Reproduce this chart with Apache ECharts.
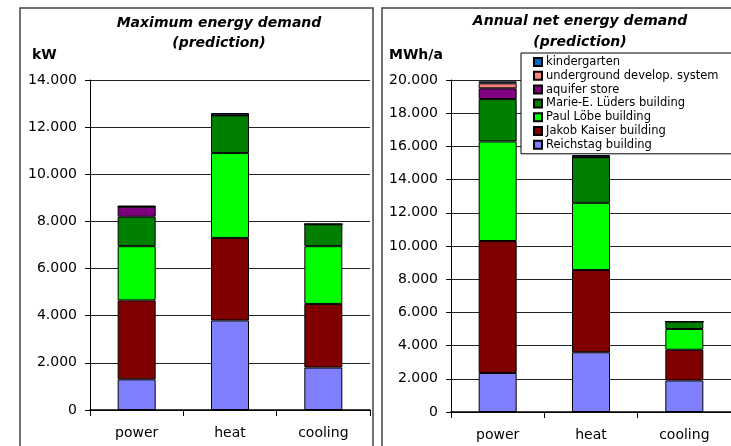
<!DOCTYPE html>
<html>
<head>
<meta charset="utf-8">
<script src="https://cdn.jsdelivr.net/npm/echarts@6/dist/echarts.min.js"></script>
<style>
  html, body { margin: 0; padding: 0; background: #fff; }
  #chart { width: 731px; height: 446px; }
</style>
</head>
<body>
<div id="chart"></div>
<script>
// Demand categories shared by both panels
const categories = ['power', 'heat', 'cooling'];

// Building / system names, bottom of the stack first
const names = [
  'Reichstag building',
  'Jakob Kaiser building',
  'Paul Löbe building',
  'Marie-E. Lüders building',
  'aquifer store',
  'underground develop. system',
  'kindergarten'
];
const colors = ['#8080ff', '#800000', '#00ff00', '#008000', '#800080', '#ff8080', '#0066cc'];

// Maximum energy demand (kW), per building: power, heat, cooling
const maxReichstag   = [1300, 3800, 1800];
const maxJakobKaiser = [3350, 3500, 2700];
const maxPaulLoebe   = [2300, 3600, 2450];
const maxMarieLueders = [1250, 1600, 930];
const maxAquifer     = [425, 0, 0];
const maxUnderground = [0, 0, 0];
const maxKindergarten = [40, 100, 0];

// Annual net energy demand (MWh/a), per building: power, heat, cooling
const annReichstag   = [2350, 3600, 1900];
const annJakobKaiser = [7950, 4950, 1850];
const annPaulLoebe   = [6000, 4050, 1250];
const annMarieLueders = [2550, 2750, 450];
const annAquifer     = [650, 0, 0];
const annUnderground = [300, 0, 0];
const annKindergarten = [120, 130, 0];

const maxTicks = [0, 2000, 4000, 6000, 8000, 10000, 12000, 14000];
const annTicks = [0, 2000, 4000, 6000, 8000, 10000, 12000, 14000, 16000, 18000, 20000];

const maxSets = [maxReichstag, maxJakobKaiser, maxPaulLoebe, maxMarieLueders, maxAquifer, maxUnderground, maxKindergarten];
const annSets = [annReichstag, annJakobKaiser, annPaulLoebe, annMarieLueders, annAquifer, annUnderground, annKindergarten];

const FONT = 'DejaVu Sans';

// German thousands separator: 14000 -> "14.000"
function fmt(v) {
  return String(Math.round(v)).replace(/\B(?=(\d{3})+(?!\d))/g, '.');
}

function xAxis(gridIndex) {
  return {
    type: 'category',
    gridIndex: gridIndex,
    data: categories,
    boundaryGap: true,
    axisLine: { lineStyle: { color: '#000', width: 1.5 } },
    axisTick: { show: true, alignWithLabel: false, length: 6, lineStyle: { color: '#000', width: 1 } },
    axisLabel: { color: '#000', fontFamily: FONT, fontSize: 14, margin: 16 }
  };
}

function yAxis(gridIndex, ticks) {
  return {
    type: 'value',
    gridIndex: gridIndex,
    min: ticks[0],
    max: ticks[ticks.length - 1],
    interval: ticks[1] - ticks[0],
    axisLine: { show: true, lineStyle: { color: '#000', width: 1 } },
    axisTick: { show: true, length: 5, lineStyle: { color: '#000' } },
    axisLabel: { color: '#000', fontFamily: FONT, fontSize: 14, margin: 13, formatter: fmt },
    splitLine: { show: true, lineStyle: { color: '#222', width: 1 } }
  };
}

const series = [];
[maxSets, annSets].forEach(function (sets, g) {
  sets.forEach(function (vals, i) {
    series.push({
      name: names[i],
      type: 'bar',
      stack: 'total' + g,
      xAxisIndex: g,
      yAxisIndex: g,
      barWidth: 38,
      data: vals,
      itemStyle: { color: colors[i], borderColor: '#000', borderWidth: 1 },
      emphasis: { disabled: true }
    });
  });
});

const chart = echarts.init(document.getElementById('chart'), null, { renderer: 'canvas' });
chart.setOption({
  animation: false,
  backgroundColor: '#fff',
  title: [
    {
      text: 'Maximum energy demand\n(prediction)',
      left: 214, top: 8, textAlign: 'center',
      textStyle: { fontFamily: FONT, fontSize: 14, fontWeight: 'bold', fontStyle: 'italic', color: '#000', lineHeight: 20 }
    },
    {
      text: 'Annual net energy demand\n(prediction)',
      left: 575, top: 6, textAlign: 'center',
      textStyle: { fontFamily: FONT, fontSize: 14, fontWeight: 'bold', fontStyle: 'italic', color: '#000', lineHeight: 21 }
    },
    {
      text: 'kW', left: 27, top: 43,
      textStyle: { fontFamily: FONT, fontSize: 14, fontWeight: 'bold', color: '#000' }
    },
    {
      text: 'MWh/a', left: 384, top: 43,
      textStyle: { fontFamily: FONT, fontSize: 14, fontWeight: 'bold', color: '#000' }
    }
  ],
  legend: {
    orient: 'vertical',
    left: 521, top: 53,
    padding: [3, 30, 3, 12],
    backgroundColor: '#fff',
    borderColor: '#000',
    borderWidth: 1,
    itemWidth: 8, itemHeight: 8,
    itemGap: 1.8,
    icon: 'rect',
    data: names.slice().reverse(),
    textStyle: { fontFamily: FONT, fontSize: 11.5, color: '#000', lineHeight: 12, padding: [0, 0, 0, -1] },
    selectedMode: false
  },
  grid: [
    { left: 90, top: 80, width: 280, height: 330 },
    { left: 451, top: 80, width: 282, height: 332 }
  ],
  xAxis: [xAxis(0), xAxis(1)],
  yAxis: [yAxis(0, maxTicks), yAxis(1, annTicks)],
  series: series,
  graphic: [
    { type: 'rect', z: -1, shape: { x: 20, y: 8, width: 353, height: 460 }, style: { fill: 'none', stroke: '#444', lineWidth: 1.5 } },
    { type: 'rect', z: -1, shape: { x: 382, y: 8, width: 360, height: 460 }, style: { fill: 'none', stroke: '#444', lineWidth: 1.5 } }
  ]
});
</script>
</body>
</html>
